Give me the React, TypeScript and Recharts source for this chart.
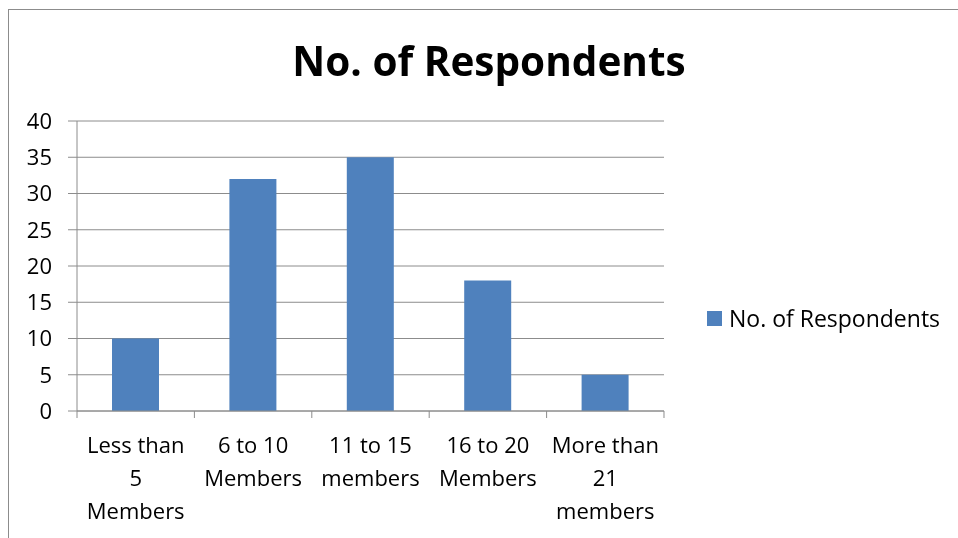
import React from 'react';
import { BarChart, Bar, XAxis, YAxis, CartesianGrid, Legend } from 'recharts';

const categories = [
  'Less than\n5\nMembers',
  '6 to 10\nMembers',
  '11 to 15\nmembers',
  '16 to 20\nMembers',
  'More than\n21\nmembers',
];
const respondents = [10, 32, 35, 18, 5];
const yTicks = [0, 5, 10, 15, 20, 25, 30, 35, 40];
const seriesName = 'No. of Respondents';

const data = categories.map((c, i) => ({ name: c, value: respondents[i] }));

const FONT = '"Open Sans", sans-serif';
const GRAY = '#8c8c8c';
const BLUE = '#4f81bd';

// category label plus tick marks on the band edges (Excel style)
const CategoryTick = (props: any) => {
  const { x, y, payload, index, visibleTicksCount } = props;
  const half = payload.offset || 0;
  const lines = String(payload.value).split('\n');
  return (
    <g transform={`translate(${x},${y})`}>
      <line x1={-half} x2={-half} y1={0} y2={7} stroke={GRAY} />
      {index === visibleTicksCount - 1 && <line x1={half} x2={half} y1={0} y2={7} stroke={GRAY} />}
      {lines.map((l: string, i: number) => (
        <text key={i} x={0} y={i * 33} dy={42} textAnchor="middle" fill="#000" fontSize={22} fontFamily={FONT}>
          {l}
        </text>
      ))}
    </g>
  );
};

const LegendBox = () => (
  <div style={{ display: 'flex', alignItems: 'center', whiteSpace: 'nowrap', fontFamily: FONT, fontSize: 23, color: '#000' }}>
    <span style={{ display: 'inline-block', flexShrink: 0, width: 15, height: 15, background: BLUE, marginRight: 7 }} />
    {seriesName}
  </div>
);

export default function App() {
  return (
    <div style={{ position: 'fixed', left: 8, top: 9, width: 950, height: 529, borderLeft: `1px solid ${GRAY}`, borderTop: `1px solid ${GRAY}`, boxSizing: 'border-box', overflow: 'hidden' }}>
      <div style={{ position: 'absolute', left: 0, width: 960, top: 23, textAlign: 'center', fontFamily: FONT, fontWeight: 700, fontSize: 40.5 }}>
        {seriesName}
      </div>
      <BarChart
        width={949}
        height={528}
        data={data}
        margin={{ top: 111, right: 294, left: 8, bottom: 27 }}
        style={{ position: 'absolute', left: 0, top: 0 }}
      >
        <CartesianGrid vertical={false} stroke={GRAY} strokeWidth={1} />
        <XAxis dataKey="name" interval={0} height={100} axisLine={{ stroke: GRAY }} tickLine={false} tickSize={0} tickMargin={0} tick={<CategoryTick />} />
        <YAxis width={60} domain={[0, 40]} ticks={yTicks} interval={0} axisLine={{ stroke: GRAY }} tickLine={{ stroke: GRAY }} tickSize={9} tickMargin={16}
          tick={{ fill: '#000', fontSize: 22, fontFamily: FONT }} />
        <Legend content={<LegendBox />} wrapperStyle={{ position: 'absolute', left: 698, top: 292, width: 0, height: 0, overflow: 'visible' }} />
        <Bar dataKey="value" name={seriesName} fill={BLUE} barSize={47} isAnimationActive={false} />
      </BarChart>
    </div>
  );
}
